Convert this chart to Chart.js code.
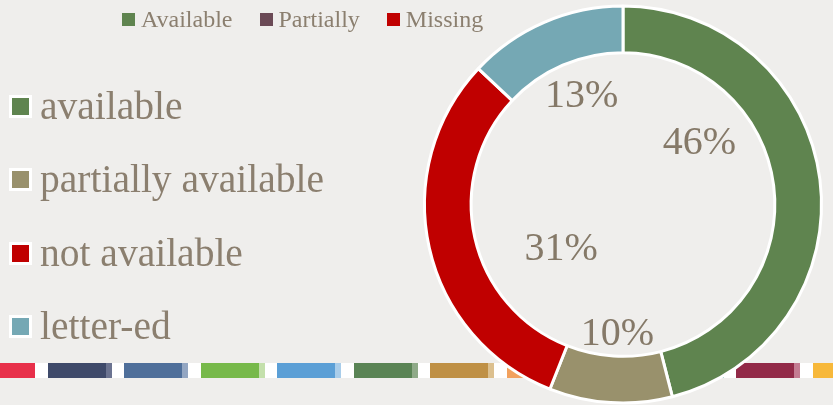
<!DOCTYPE html>
<html>
<head>
<meta charset="utf-8">
<script src="https://cdn.jsdelivr.net/npm/chart.js@4.4.1/dist/chart.umd.min.js"></script>
<style>
  html, body { margin: 0; padding: 0; }
  body {
    width: 833px; height: 405px; position: relative; overflow: hidden;
    background: #efeeec;
    font-family: "Liberation Serif", serif; color: #8b7f6f;
  }
  #stripe { position: absolute; left: 0; top: 363px; width: 833px; height: 15px; background: #fff; }
  #stripe div { position: absolute; top: 0; height: 15px; }
  #chart { position: absolute; left: 0; top: 0; }
  #topLegend {
    position: absolute; left: 122px; top: 8px;
    display: flex; align-items: center; gap: 27px;
    font-size: 24px; line-height: 23px; white-space: nowrap;
  }
  #topLegend .item { display: flex; align-items: center; }
  #topLegend .box { width: 13px; height: 13px; margin-right: 6px; }
  #sideLegend .row {
    position: absolute; left: 9px; height: 40px;
    font-size: 39.5px; line-height: 40px; white-space: nowrap;
  }
  #sideLegend .box {
    position: absolute; left: 0; top: 9px; width: 23px; height: 23px;
    box-sizing: border-box; border: 3px solid #fff;
  }
  #sideLegend .label { position: absolute; left: 31px; top: 0; }
</style>
</head>
<body>
<div id="stripe"></div>
<canvas id="chart" width="833" height="405"></canvas>
<div id="topLegend"></div>
<div id="sideLegend"></div>

<script>
// chart data
const categories = ['available', 'partially available', 'not available', 'letter-ed'];
const shares = [46, 10, 31, 13];
const sliceColors = ['#5f844f', '#99916c', '#c00000', '#75a8b4'];

// the small legend on top of the slide
const topLegendLabels = ['Available', 'Partially', 'Missing'];
const topLegendColors = ['#5f844f', '#6b4a56', '#c00000'];

// decorative colour bar along the bottom
const stripeColors = ['#e8304a', '#3f4a6a', '#4f6f9a', '#77b94a', '#5b9fd6', '#5a8455',
                      '#bf9045', '#f2a15e', '#8a6fa8', '#4fa3a5', '#922a48', '#f7b83a'];
const stripeTints  = ['#e8304a', '#6b7390', '#93a6c2', '#c4e0ac', '#a9cdea', '#8faa88',
                      '#dcc08f', '#f8cfa9', '#c0b0d4', '#a0d0d1', '#c47c92', '#fad98f'];

// build the bottom stripe
const stripe = document.getElementById('stripe');
stripeColors.forEach((c, i) => {
    const left = -29 + i * 76.5;
    const main = document.createElement('div');
    main.style.left = left + 'px';
    main.style.width = '58px';
    main.style.background = c;
    stripe.appendChild(main);
    const tint = document.createElement('div');
    tint.style.left = (left + 58) + 'px';
    tint.style.width = '6px';
    tint.style.background = stripeTints[i];
    stripe.appendChild(tint);
});

// top legend
const topLegend = document.getElementById('topLegend');
topLegendLabels.forEach((label, i) => {
    const item = document.createElement('div');
    item.className = 'item';
    item.innerHTML = '<span class="box" style="background:' + topLegendColors[i] + '"></span><span>' + label + '</span>';
    topLegend.appendChild(item);
});

// side legend
const sideLegend = document.getElementById('sideLegend');
categories.forEach((label, i) => {
    const row = document.createElement('div');
    row.className = 'row';
    row.style.top = (86 + i * 73.3) + 'px';
    row.innerHTML = '<span class="box" style="background:' + sliceColors[i] + '"></span><span class="label">' + label + '</span>';
    sideLegend.appendChild(row);
});

// percentage labels drawn inside the hole, nudged from the slice's mid angle
const labelNudge = [[-29, -48], [1, 24], [42, 22], [1, -10]];
const percentLabels = {
    id: 'percentLabels',
    afterDatasetsDraw(chart) {
        const ctx = chart.ctx;
        const meta = chart.getDatasetMeta(0);
        const values = chart.data.datasets[0].data;
        const total = values.reduce((a, b) => a + b, 0);
        ctx.save();
        ctx.font = '40px "Liberation Serif", serif';
        ctx.fillStyle = '#857968';
        ctx.textAlign = 'center';
        ctx.textBaseline = 'middle';
        meta.data.forEach((arc, i) => {
            const p = arc.getProps(['x', 'y', 'startAngle', 'endAngle', 'innerRadius'], true);
            const mid = (p.startAngle + p.endAngle) / 2;
            const r = p.innerRadius * 0.7;
            const x = p.x + Math.cos(mid) * r + labelNudge[i][0];
            const y = p.y + Math.sin(mid) * r + labelNudge[i][1];
            ctx.fillText(Math.round(values[i] / total * 100) + '%', x, y);
        });
        ctx.restore();
    }
};

new Chart(document.getElementById('chart').getContext('2d'), {
    type: 'doughnut',
    data: {
        labels: categories,
        datasets: [{
            data: shares,
            backgroundColor: sliceColors,
            borderColor: '#ffffff',
            borderWidth: 3
        }]
    },
    options: {
        responsive: false,
        animation: false,
        cutout: '76.5%',
        layout: {
            padding: { left: 423, right: 10, top: 4, bottom: 0 }
        },
        plugins: {
            legend: { display: false },
            tooltip: { enabled: false }
        }
    },
    plugins: [percentLabels]
});
</script>
</body>
</html>
